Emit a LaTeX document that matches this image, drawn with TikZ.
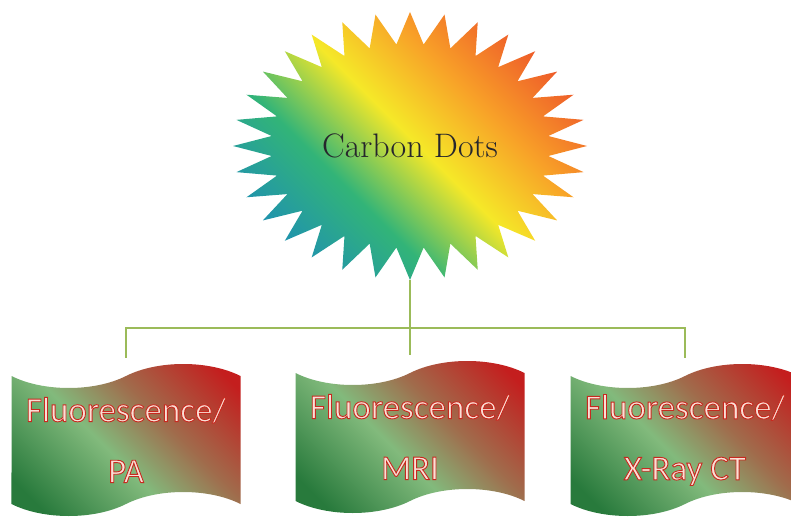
\documentclass[tikz,border=0pt]{standalone}
\usepackage{fontspec}
\usepackage{tikz}
\usetikzlibrary{
    shapes.symbols,
    positioning,
    calc
}
\newfontfamily\flagfont{Carlito}
\definecolor{linkgreen}{RGB}{155,187,89}
\definecolor{flagtext}{RGB}{250,224,214}
\definecolor{dotsink}{RGB}{38,38,44}
\definecolor{burstA}{RGB}{28,140,185}
\definecolor{burstB}{RGB}{50,180,120}
\definecolor{burstC}{RGB}{245,232,40}
\definecolor{burstD}{RGB}{248,160,40}
\definecolor{burstE}{RGB}{234,64,42}
\definecolor{flagA}{RGB}{40,122,60}
\definecolor{flagB}{RGB}{130,186,124}
\definecolor{flagC}{RGB}{160,108,76}
\definecolor{flagD}{RGB}{196,30,30}
\pgfdeclarehorizontalshading{burstshade}{100bp}{
    color(0bp)=(burstA); color(22bp)=(burstA); color(38bp)=(burstB);
    color(51bp)=(burstC); color(63bp)=(burstD); color(80bp)=(burstE);
    color(100bp)=(burstE)}
\pgfdeclarehorizontalshading{flagshade}{100bp}{
    color(0bp)=(flagA); color(22bp)=(flagA); color(45bp)=(flagB);
    color(60bp)=(flagC); color(80bp)=(flagD); color(100bp)=(flagD)}
% light letters with a red rim
\newcommand{\rimtext}[1]{\special{pdf:literal direct 2 Tr 0.9 w 0.78 0.16 0.12 RG}#1\special{pdf:literal direct 0 Tr}}

\begin{document}
\begin{tikzpicture}[
        x=1pt, y=-1pt,
        burst/.style={
            shading=burstshade,
            shading angle=45
        },
        flag/.style={
            tape,
            shade,
            shading=flagshade,
            shading angle=45,
            tape bend top=in and out,
            tape bend bottom=in and out,
            tape bend height=24pt,
            minimum width=229pt,
            minimum height=152pt,
            align=center,
            inner sep=0pt,
            text=flagtext,
            font=\flagfont\fontsize{35}{61}\selectfont
        },
        link/.style={
            draw=linkgreen,
            line width=1.8pt
        }
    ]
    \useasboundingbox (0,0) rectangle (791,518);

    % star burst
    \shade[burst] plot[domain=0:63, samples=64, variable=\k]
        ({410+(177-38*mod(\k,2))*cos(90+\k*5.625)},
         {146+(134-32*mod(\k,2))*sin(90+\k*5.625)}) -- cycle;
    \node[text=dotsink, font=\fontsize{34}{34}\selectfont] (cd) at (410,146) {Carbon Dots};
    \coordinate (cdbase) at (410,280);
    \coordinate (hub) at (410,328);

    \node[flag] (pa) at (126,440) {\rimtext{Fluorescence/}\\\rimtext{PA}};
    \node[flag] (mri) at (410,437) {\rimtext{Fluorescence/}\\\rimtext{MRI}};
    \node[flag] (xray) at (685,440) {\rimtext{Fluorescence/}\\\rimtext{X-Ray CT}};

    \draw[link, shorten >=18pt] (cdbase) -- (mri.north);
    \draw[link, shorten >=18pt] (hub) -| (pa.north);
    \draw[link, shorten >=18pt] (hub) -| (xray.north);

\end{tikzpicture}
\end{document}
